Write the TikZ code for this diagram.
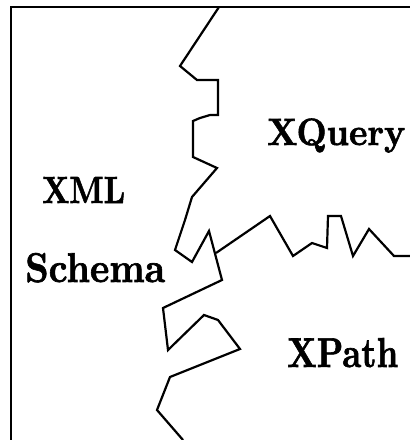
\documentclass[tikz,border=0pt]{standalone}
\usepackage{graphicx}
\usepackage{fontspec}
\newfontfamily\heavyfont{lmroman10-bold.otf}[FakeBold=1.6]
\begin{document}
\begin{tikzpicture}[x=1pt,y=-1pt,
  edge/.style={line width=2.2pt,line join=miter},
  lbl/.style={font=\heavyfont,inner sep=0pt,anchor=base west}]
\useasboundingbox (0,0) rectangle (410,440);
\fill[white] (0,0) rectangle (410,440);
% frame (top and left edges)
\draw[edge] (11,440) -- (11,7) -- (410,7);
% vertical boundary
\coordinate (t0) at (219,7);
\coordinate (b0) at (183,440);
\coordinate (j) at (216,253);
\coordinate (r0) at (410,256);
\draw[edge] (t0) -- (180,66) -- (197,80) -- (218,80) -- (218,115) -- (210,115)
  -- (200,118) -- (193,121) -- (193,157) -- (217,168) -- (192,197) -- (185,220)
  -- (175,250) -- (192,262) -- (209,231) -- (222,280) -- (163,308) -- (168,350)
  -- (204,315) -- (218,320) -- (240,349) -- (170,377) -- (157,410) -- (b0);
% horizontal boundary
\draw[edge] (j) -- (270,216) -- (293,256) -- (312,243) -- (327,248) -- (328,216)
  -- (341,216) -- (353,256) -- (369,229) -- (394,256) -- (r0);
\node[lbl] (xquery) at (267,145) {\resizebox{138pt}{26.5pt}{XQuery}};
\node[lbl] (xml) at (42,203) {\resizebox{83pt}{26pt}{XML}};
\node[lbl] (schema) at (25,282) {\resizebox{140pt}{29pt}{Schema}};
\node[lbl] (xpath) at (287,367) {\resizebox{111pt}{29pt}{XPath}};
\end{tikzpicture}
\end{document}
